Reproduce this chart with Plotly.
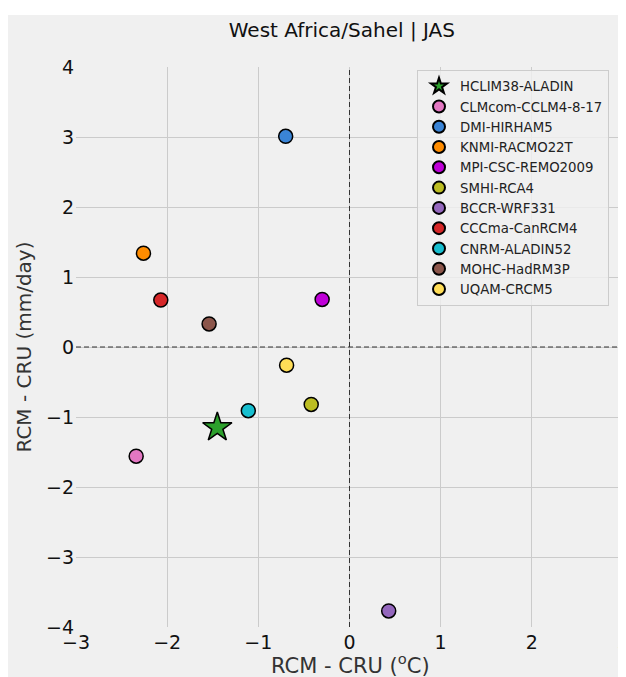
import plotly.graph_objects as go

models = ["HCLIM38-ALADIN", "CLMcom-CCLM4-8-17", "DMI-HIRHAM5", "KNMI-RACMO22T",
          "MPI-CSC-REMO2009", "SMHI-RCA4", "BCCR-WRF331", "CCCma-CanRCM4",
          "CNRM-ALADIN52", "MOHC-HadRM3P", "UQAM-CRCM5"]
temp_bias = [-1.45, -2.34, -0.70, -2.26, -0.30, -0.42, 0.43, -2.07, -1.11, -1.54, -0.69]
precip_bias = [-1.15, -1.56, 3.01, 1.34, 0.68, -0.82, -3.77, 0.67, -0.91, 0.33, -0.26]
colors = ["#2ca02c", "#e377c2", "#3a84d6", "#ff8c00", "#bf00d8", "#bcbd22",
          "#9467bd", "#d62728", "#17becf", "#8c564b", "#ffdd57"]
symbols = ["star"] + ["circle"] * 10
sizes = [22] + [14] * 10

x_ticks = [-3, -2, -1, 0, 1, 2, 3]
y_ticks = [-4, -3, -2, -1, 0, 1, 2, 3, 4]

fig = go.Figure()
for name, xv, yv, c, s, sz in zip(models, temp_bias, precip_bias, colors, symbols, sizes):
    fig.add_trace(go.Scatter(
        x=[xv], y=[yv], mode="markers", name=name,
        marker=dict(symbol=s, size=sz, color=c,
                    line=dict(color="black", width=1.5)),
    ))

# page has an 8px body margin; figure coordinates = screen - 8
L, T, PW, PH = 68, 59, 547, 560
font_family = "DejaVu Sans"
fig.update_layout(
    width=626, height=677,
    margin=dict(l=L, r=626 - L - PW, t=T, b=677 - T - PH, autoexpand=False),
    paper_bgcolor="white",
    plot_bgcolor="rgba(0,0,0,0)",
    font=dict(family=font_family, color="#222222"),
    title=dict(text="West Africa/Sahel | JAS", x=0.486, xref="paper", xanchor="center",
               y=1 - 22 / 677, yref="container", yanchor="middle",
               font=dict(size=20, color="#111111")),
    showlegend=True,
    legend=dict(x=(409 - L) / PW, y=(T + PH - 62) / PH, xanchor="left", yanchor="top",
                bgcolor="rgba(240,240,240,0.8)", bordercolor="#cccccc", borderwidth=1,
                font=dict(size=13.3, color="#222222"), itemsizing="constant",
                itemwidth=32),
    xaxis=dict(range=[-3, 3], tickvals=x_ticks, showgrid=True, gridcolor="#cbcbcb",
               gridwidth=1, zeroline=False, showline=False, automargin=False,
               ticks="", ticklabelstandoff=2,
               tickfont=dict(size=19, color="#111111")),
    yaxis=dict(range=[-4, 4], tickvals=y_ticks, showgrid=True, gridcolor="#cbcbcb",
               gridwidth=1, zeroline=False, showline=False, automargin=False,
               ticks="", ticklabelstandoff=1,
               tickfont=dict(size=19, color="#111111"),
               title=dict(text="RCM - CRU (mm/day)", font=dict(size=20, color="#333333"),
                          standoff=8)),
)

# x-axis title placed as an annotation for precise position
fig.add_annotation(text="RCM - CRU (<sup>o</sup>C)", xref="paper", yref="paper",
                   x=(342 - L) / PW, y=(T + PH - 656) / PH, xanchor="center", yanchor="middle",
                   showarrow=False, font=dict(size=21, color="#333333"))

# figure background (gray area with white border at top)
fig.add_shape(type="rect", xref="paper", yref="paper",
              x0=-L / PW - 0.05, x1=1.1, y0=-0.2, y1=(T + PH - 7) / PH,
              fillcolor="#f0f0f0", line=dict(width=0), layer="below")
# dashed zero lines
fig.add_shape(type="line", xref="x", yref="y", x0=0, x1=0, y0=-4, y1=4,
              line=dict(color="#333333", width=1, dash="5px,3px"), layer="above")
fig.add_shape(type="line", xref="x", yref="y", x0=-3, x1=3, y0=0, y1=0,
              line=dict(color="#333333", width=1, dash="5px,3px"), layer="above")

fig.write_html("out.html")
